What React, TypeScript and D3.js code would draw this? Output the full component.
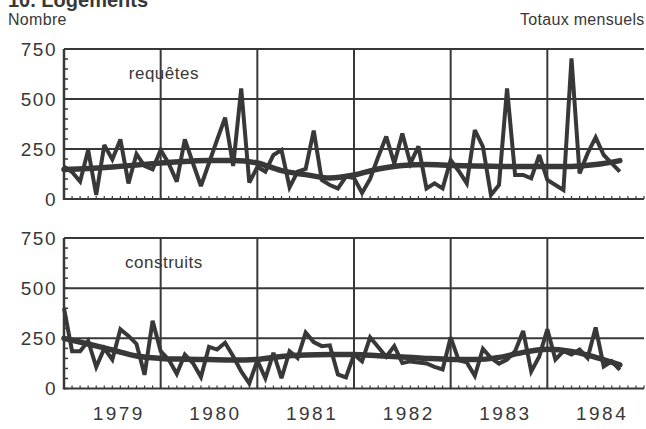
import React from "react";
import * as d3 from "d3";

const years = ["1979", "1980", "1981", "1982", "1983", "1984"];
const yTicks = [0, 250, 500, 750];

// Monthly values, Jan 1979 onward
const requetes = [
  162, 135, 87, 245, 20, 270, 198, 298, 78, 225, 165, 148,
  245, 178, 87, 298, 180, 65, 180, 295, 407, 165, 553, 82,
  160, 137, 220, 245, 58, 137, 150, 342, 95, 70, 53, 112,
  105, 30, 100, 210, 312, 178, 328, 178, 263, 53, 78, 53,
  195, 140, 78, 345, 262, 20, 70, 553, 120, 120, 103, 220,
  95, 70, 45, 703, 128, 228, 308, 220, 178, 137,
];
const construits = [
  400, 186, 186, 237, 107, 200, 144, 295, 262, 222, 68, 337,
  186, 144, 73, 169, 127, 57, 208, 194, 228, 161, 85, 26,
  140, 51, 178, 51, 186, 152, 279, 231, 211, 215, 70, 55,
  169, 135, 255, 207, 158, 211, 127, 135, 130, 125, 108, 95,
  255, 140, 130, 63, 198, 152, 124, 144, 186, 287, 85, 160,
  295, 144, 186, 169, 194, 152, 304, 110, 135, 93,
];
// Trend values read every third month
const trendMonths = [0, 3, 6, 9, 12, 15, 18, 21, 24, 27, 30, 33, 36, 39, 42, 45, 48, 51, 54, 57, 60, 63, 66, 69];
const requetesTrend = [148, 152, 160, 170, 180, 188, 192, 193, 180, 142, 122, 105, 120, 150, 168, 172, 168, 165, 163, 162, 162, 163, 172, 192];
const construitsTrend = [250, 222, 192, 162, 150, 146, 144, 142, 145, 160, 167, 169, 169, 163, 157, 150, 145, 144, 155, 180, 196, 185, 155, 118];

const W = 646;
const H = 429;
const INK = "#383838";
const FONT = "'Liberation Sans', Arial, sans-serif";

const x = d3.scaleLinear().domain([0, 72]).range([64, 644]);

function Panel({ top, bottom, label, data, trend }: { top: number; bottom: number; label: string; data: number[]; trend: number[] }) {
  const y = d3.scaleLinear().domain([0, 750]).range([bottom, top]);
  const line = d3
    .line<number>()
    .x((_, i) => x(i))
    .y((d) => y(d));
  const tline = d3
    .line<number>()
    .x((_, i) => x(trendMonths[i]))
    .y((d) => y(d))
    .curve(d3.curveMonotoneX);
  const minor = d3.range(0, 751, 50);
  const months = d3.range(0, 73);
  return (
    <g>
      {yTicks.map((t) => (
        <g key={t}>
          {t > 0 && <line x1={x(0)} x2={x(72)} y1={y(t)} y2={y(t)} stroke={INK} strokeWidth={2} />}
          <text x={57} y={y(t)} dy="0.36em" textAnchor="end" fontSize={19} letterSpacing={1.5} fill={INK} fontFamily={FONT}>
            {t}
          </text>
        </g>
      ))}
      {[12, 24, 36, 48, 60].map((m) => (
        <line key={m} x1={x(m)} x2={x(m)} y1={y(750)} y2={y(0)} stroke={INK} strokeWidth={2} />
      ))}
      <line x1={x(0)} x2={x(0)} y1={y(750)} y2={y(0) + 1} stroke={INK} strokeWidth={2.5} />
      {minor.map((t) => (
        <line key={t} x1={x(0)} x2={x(0) + 4} y1={y(t)} y2={y(t)} stroke={INK} strokeWidth={1.5} />
      ))}
      <line x1={x(0)} x2={x(72)} y1={y(0)} y2={y(0)} stroke={INK} strokeWidth={2} />
      {months.map((m) => (
        <line key={m} x1={x(m)} x2={x(m)} y1={y(0)} y2={y(0) - 3} stroke={INK} strokeWidth={1.2} />
      ))}
      <text x={x(12.4)} y={top + 24} dy="0.36em" textAnchor="middle" fontSize={17} letterSpacing={0.5} fill={INK} fontFamily={FONT}>
        {label}
      </text>
      <path d={tline(trend) || ""} fill="none" stroke={INK} strokeWidth={5.5} strokeLinecap="round" />
      <path d={line(data) || ""} fill="none" stroke={INK} strokeWidth={4} strokeLinejoin="miter" strokeMiterlimit={3} />
    </g>
  );
}

export default function App() {
  return (
    <svg
      width={W}
      height={H}
      viewBox={`0 0 ${W} ${H}`}
      style={{ position: "absolute", left: 0, top: 0, background: "#fff" }}
    >
      <rect x={0} y={0} width={W} height={H} fill="#fff" />
      <text x={8} y={7} fontSize={20} fontWeight="bold" fill={INK} fontFamily={FONT}>
        10. Logements
      </text>
      <text x={8} y={25} fontSize={16} letterSpacing={0.3} fill={INK} fontFamily={FONT}>
        Nombre
      </text>
      <text x={520} y={25} fontSize={16} letterSpacing={0.3} fill={INK} fontFamily={FONT}>
        Totaux mensuels
      </text>
      <Panel top={49} bottom={199} label="requêtes" data={requetes} trend={requetesTrend} />
      <Panel top={238} bottom={388.5} label="construits" data={construits} trend={construitsTrend} />
      {years.map((yr, k) => (
        <text
          key={yr}
          x={x(k * 12 + 6.8)}
          y={420}
          textAnchor="middle"
          fontSize={19}
          letterSpacing={2.5}
          fill={INK}
          fontFamily={FONT}
        >
          {yr}
        </text>
      ))}
    </svg>
  );
}
